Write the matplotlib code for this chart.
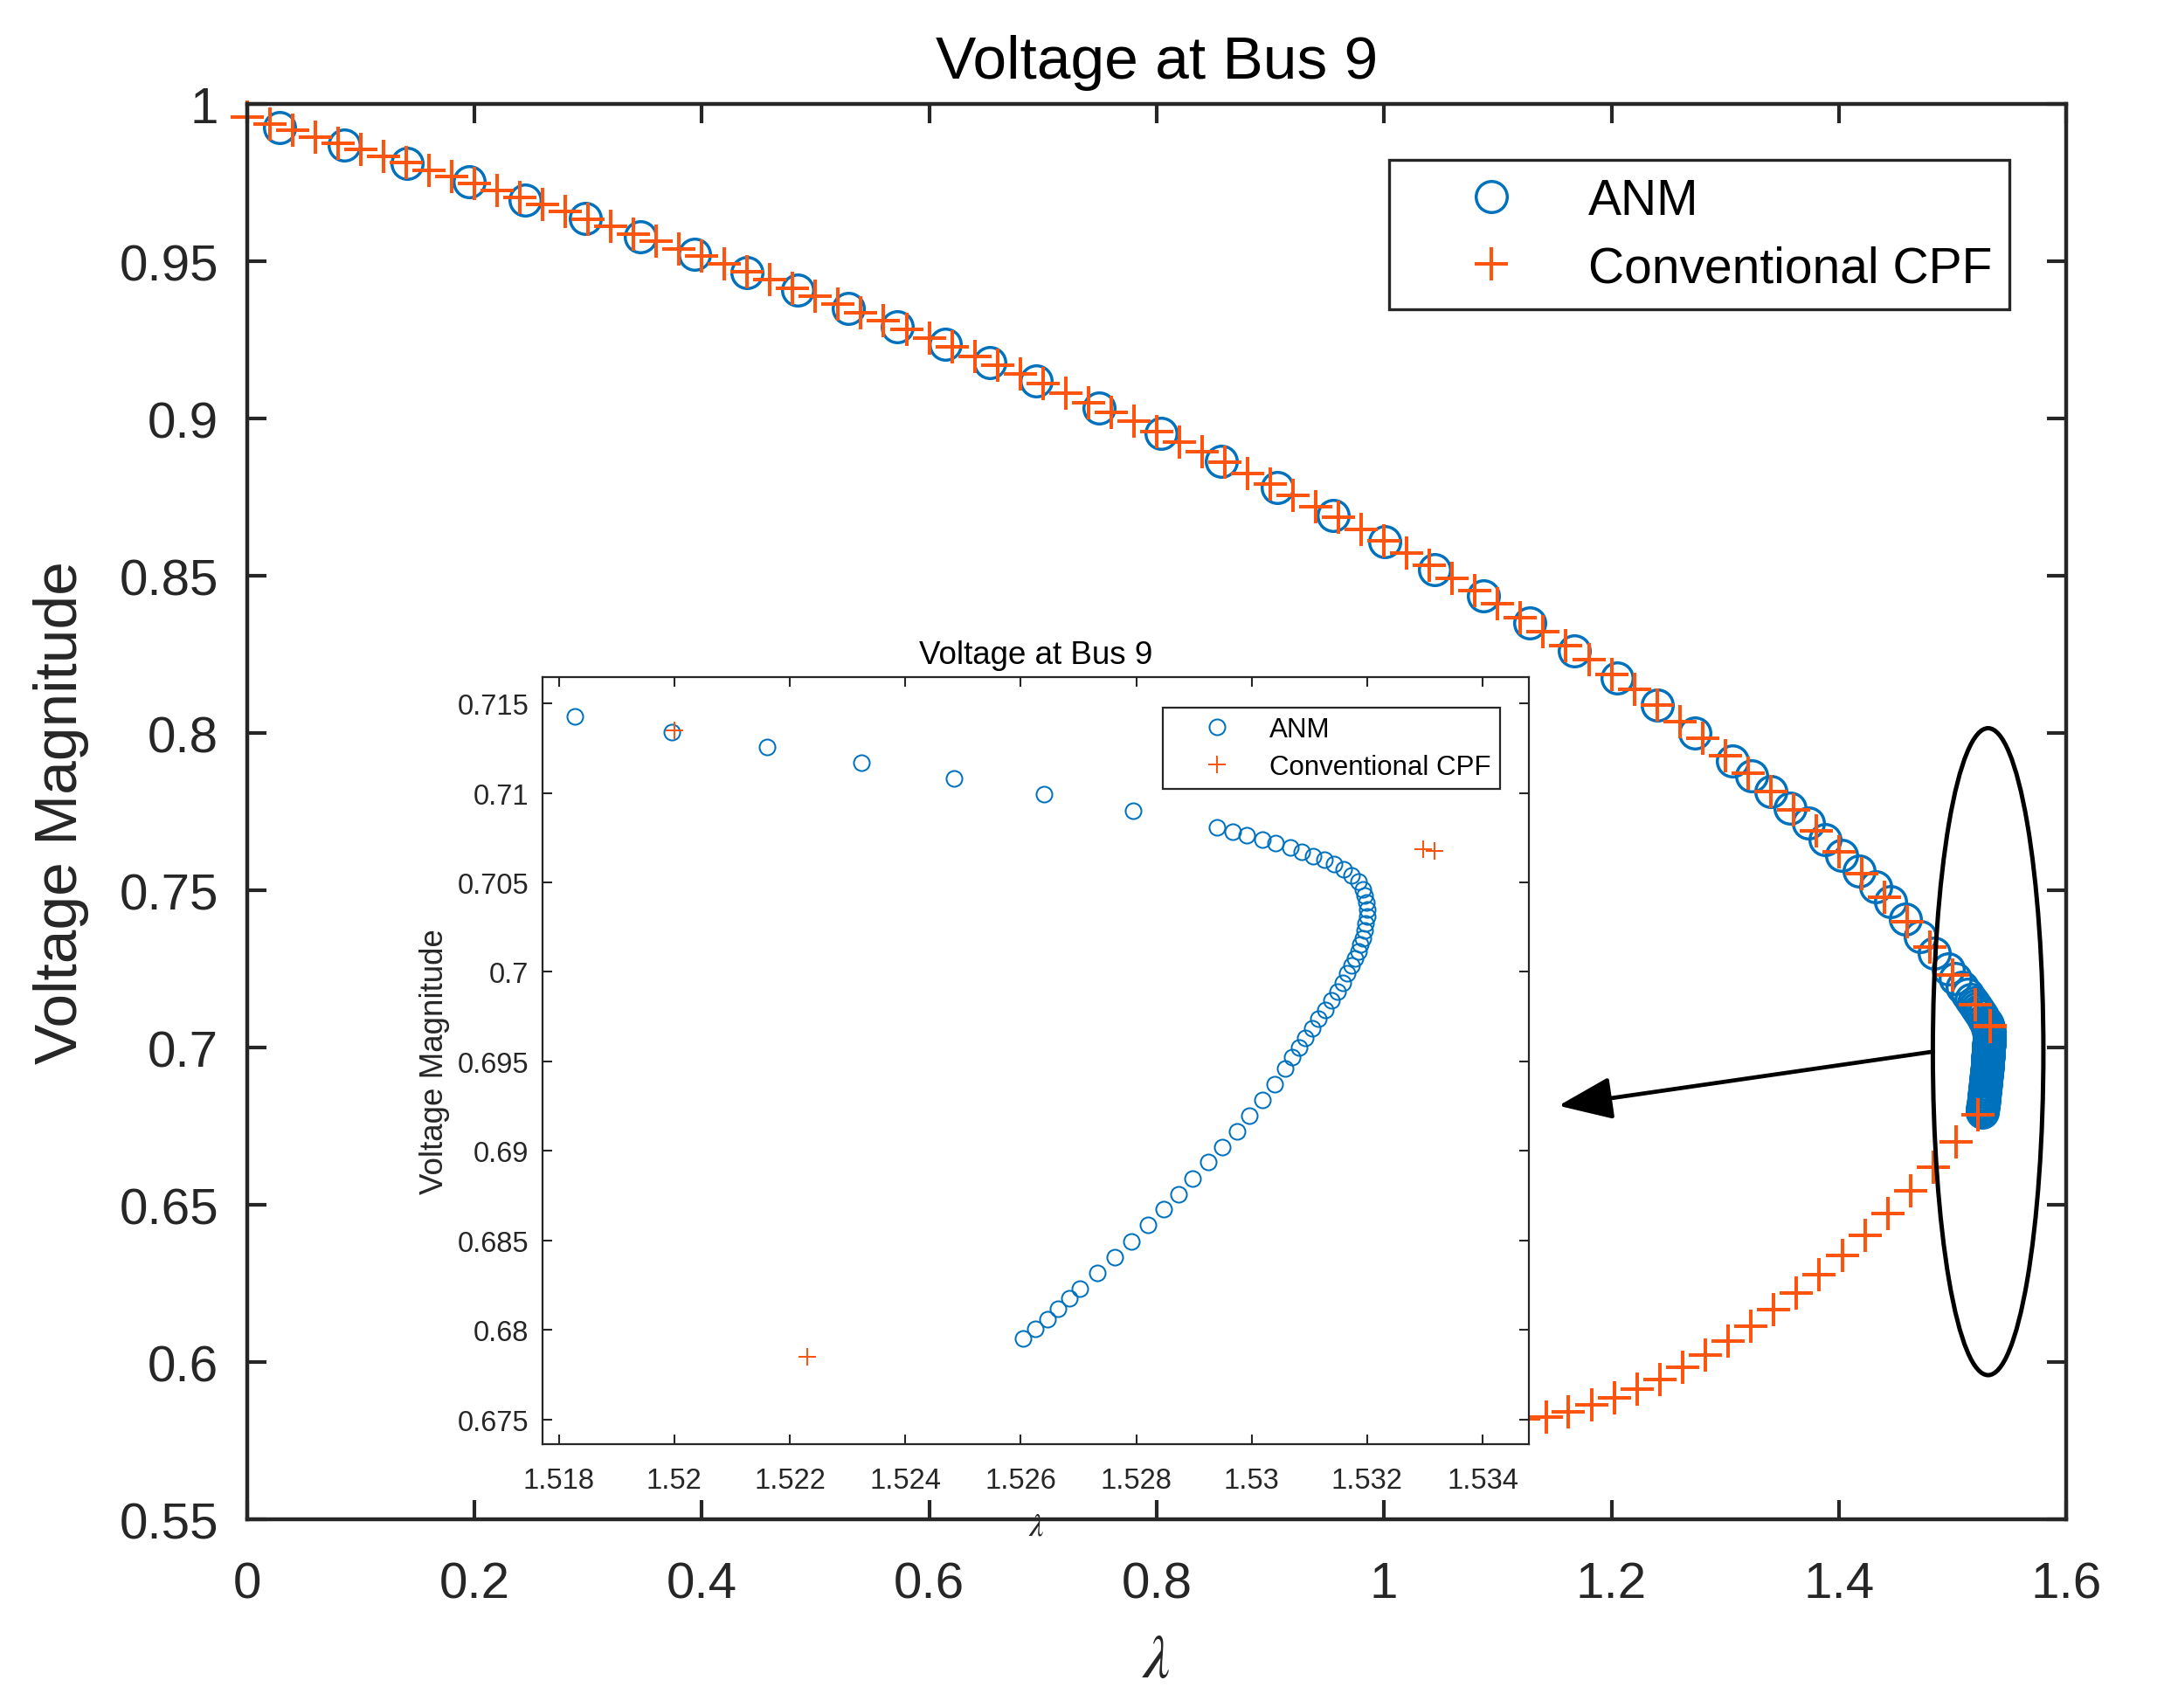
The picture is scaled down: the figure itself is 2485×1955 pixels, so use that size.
import matplotlib
matplotlib.use('Agg')
import matplotlib.pyplot as plt
from matplotlib.patches import Ellipse, FancyArrowPatch

plt.rcParams['font.family'] = ['Liberation Sans', 'DejaVu Sans']
plt.rcParams['mathtext.fontset'] = 'stix'

# ---- data ----
# ANM points (lambda, voltage)
anm_lam = [0.0291, 0.0854, 0.1408, 0.1956, 0.2446, 0.2975, 0.3460, 0.3940, 0.4396, 0.4846,
           0.5287, 0.5718, 0.6144, 0.6536, 0.6938, 0.7495, 0.8036, 0.8573, 0.9062, 0.9556,
           1.0007, 1.0446, 1.0877, 1.1280, 1.1672, 1.2052, 1.2405, 1.2730, 1.3060, 1.3236,
           1.3403, 1.3569, 1.3730, 1.3879, 1.4025, 1.4178, 1.4320, 1.4455, 1.4588, 1.4716,
           1.4837, 1.4960, 1.5026, 1.5083, 1.5130, 1.5160,
           1.51828, 1.51996, 1.52160, 1.52324, 1.52484, 1.52641, 1.52794,
           1.52940, 1.52967, 1.52992, 1.53018, 1.53042, 1.53067, 1.53087, 1.53107, 1.53126, 1.53143,
           1.53159, 1.53173, 1.53185, 1.53192, 1.53196, 1.53199, 1.53200, 1.53200, 1.53197, 1.53195,
           1.53192, 1.53188, 1.53185, 1.53179, 1.53173, 1.53166, 1.53158, 1.53149, 1.53138, 1.53128,
           1.53116, 1.53105, 1.53093, 1.53082, 1.53070, 1.53058, 1.53040, 1.53018, 1.52996, 1.52974,
           1.52949, 1.52924, 1.52898, 1.52874, 1.52847, 1.52820, 1.52792, 1.52763, 1.52733, 1.52703,
           1.52684, 1.52664, 1.52646, 1.52625, 1.52604]
anm_v = [0.9926, 0.9869, 0.9812, 0.9752, 0.9694, 0.9637, 0.9579, 0.9522, 0.9465, 0.9408,
         0.9350, 0.9292, 0.9235, 0.9178, 0.9120, 0.9034, 0.8954, 0.8863, 0.8780, 0.8693,
         0.8609, 0.8521, 0.8435, 0.8349, 0.8262, 0.8174, 0.8088, 0.8000, 0.7912, 0.7863,
         0.7813, 0.7761, 0.7713, 0.7662, 0.7611, 0.7562, 0.7511, 0.7463, 0.7408, 0.7352,
         0.7301, 0.7250, 0.7220, 0.7193, 0.7169, 0.7154,
         0.71425, 0.71341, 0.71254, 0.71167, 0.71080, 0.70993, 0.70902,
         0.70806, 0.70781, 0.70762, 0.70740, 0.70719, 0.70694, 0.70669, 0.70647, 0.70625, 0.70600,
         0.70572, 0.70541, 0.70504, 0.70463, 0.70426, 0.70389, 0.70348, 0.70311, 0.70270, 0.70230,
         0.70189, 0.70152, 0.70115, 0.70074, 0.70034, 0.69990, 0.69940, 0.69890, 0.69840, 0.69788,
         0.69738, 0.69685, 0.69632, 0.69579, 0.69523, 0.69461, 0.69374, 0.69283, 0.69199, 0.69109,
         0.69022, 0.68938, 0.68847, 0.68760, 0.68673, 0.68586, 0.68496, 0.68408, 0.68318, 0.68231,
         0.68175, 0.68116, 0.68060, 0.68007, 0.67951]

# Conventional CPF points: upper branch, nose, lower branch
cpf_lam = [0.00, 0.02, 0.04, 0.06, 0.08, 0.10, 0.12, 0.14, 0.16, 0.18,
           0.20, 0.22, 0.24, 0.26, 0.28, 0.30, 0.32, 0.34, 0.36, 0.38,
           0.40, 0.42, 0.44, 0.46, 0.48, 0.50, 0.52, 0.54, 0.56, 0.58,
           0.60, 0.62, 0.64, 0.66, 0.68, 0.70, 0.72, 0.74, 0.76, 0.78,
           0.80, 0.82, 0.84, 0.86, 0.88, 0.90, 0.92, 0.94, 0.96, 0.98,
           1.00, 1.02, 1.04, 1.06, 1.08, 1.10, 1.12, 1.14, 1.16, 1.18,
           1.20, 1.22, 1.24, 1.26, 1.28, 1.30, 1.32, 1.34, 1.36, 1.38,
           1.40, 1.42, 1.44, 1.46, 1.48, 1.50, 1.52,
           1.53297, 1.53316,
           1.52231, 1.5027, 1.4827, 1.4628, 1.4428, 1.4228, 1.4028, 1.3828, 1.3628, 1.3428,
           1.3228, 1.3029, 1.2829, 1.2629, 1.2428, 1.2229, 1.2029, 1.1829, 1.1623, 1.1424,
           1.1224]
cpf_v = [0.9958, 0.9937, 0.9917, 0.9896, 0.9875, 0.9855, 0.9833, 0.9813, 0.9790, 0.9769,
         0.9747, 0.9724, 0.9702, 0.9681, 0.9658, 0.9634, 0.9611, 0.9586, 0.9563, 0.9540,
         0.9516, 0.9491, 0.9466, 0.9442, 0.9415, 0.9389, 0.9363, 0.9336, 0.9310, 0.9283,
         0.9255, 0.9227, 0.9197, 0.9169, 0.9142, 0.9111, 0.9081, 0.9051, 0.9021, 0.8991,
         0.8958, 0.8926, 0.8894, 0.8861, 0.8826, 0.8792, 0.8756, 0.8721, 0.8685, 0.8648,
         0.8611, 0.8572, 0.8533, 0.8493, 0.8452, 0.8410, 0.8366, 0.8322, 0.8278, 0.8233,
         0.8187, 0.8139, 0.8088, 0.8037, 0.7983, 0.7928, 0.7872, 0.7813, 0.7755, 0.7688,
         0.7622, 0.7554, 0.7479, 0.7401, 0.7319, 0.7231, 0.7135,
         0.70684, 0.70678,
         0.67851, 0.6699, 0.6620, 0.6544, 0.6472, 0.6404, 0.6340, 0.6278, 0.6220, 0.6167,
         0.6114, 0.6067, 0.6023, 0.5983, 0.5946, 0.5915, 0.5885, 0.5863, 0.5841, 0.5826,
         0.5821]

main_xticks = [0, 0.2, 0.4, 0.6, 0.8, 1.0, 1.2, 1.4, 1.6]
main_xticklabels = ['0', '0.2', '0.4', '0.6', '0.8', '1', '1.2', '1.4', '1.6']
main_yticks = [0.55, 0.6, 0.65, 0.7, 0.75, 0.8, 0.85, 0.9, 0.95, 1.0]
main_yticklabels = ['0.55', '0.6', '0.65', '0.7', '0.75', '0.8', '0.85', '0.9', '0.95', '1']
ins_xticks = [1.518, 1.520, 1.522, 1.524, 1.526, 1.528, 1.530, 1.532, 1.534]
ins_xticklabels = ['1.518', '1.52', '1.522', '1.524', '1.526', '1.528', '1.53', '1.532', '1.534']
ins_yticks = [0.675, 0.68, 0.685, 0.69, 0.695, 0.7, 0.705, 0.71, 0.715]
ins_yticklabels = ['0.675', '0.68', '0.685', '0.69', '0.695', '0.7', '0.705', '0.71', '0.715']

# highlight ellipse (center, width, height) and arrow (tail, head) in data units
ell_center = (1.5312, 0.6987)
ell_size = (0.0972, 0.2057)
arrow_tail = (1.4826, 0.6987)
arrow_head = (1.1534, 0.6815)

blue = '#0072BD'
orange = '#FD5510'
axcol = '#262626'

fig = plt.figure(figsize=(24.85, 19.56), dpi=100)

# <- main axes ->
ax = fig.add_axes([0.1137, 0.1104, 0.8381, 0.8282])
ax.plot(anm_lam, anm_v, ls='none', marker='o', mfc='none', mec=blue, ms=25.6, mew=2.5,
        label='ANM', clip_on=False)
ax.plot(cpf_lam, cpf_v, ls='none', marker='+', color=orange, ms=28, mew=2.9,
        label='Conventional CPF', clip_on=False)
ax.set_xlim(0, 1.6)
ax.set_ylim(0.55, 1.0)
ax.set_xticks(main_xticks)
ax.set_xticklabels(main_xticklabels)
ax.set_yticks(main_yticks)
ax.set_yticklabels(main_yticklabels)
for s in ax.spines.values():
    s.set_linewidth(3.2)
    s.set_color(axcol)
ax.tick_params(direction='in', length=15.8, width=3.0, color=axcol, labelcolor=axcol,
               labelsize=42, top=True, right=True)
ax.tick_params(axis='x', pad=33.8)
ax.tick_params(axis='y', pad=23.4)
ax.set_title('Voltage at Bus 9', fontsize=50, pad=21.6, color='black')
ax.set_xlabel(r'$\lambda$', fontsize=50, color=axcol)
ax.xaxis.set_label_coords(0.5, -0.080)
ax.set_ylabel('Voltage Magnitude', fontsize=50, color=axcol, va='center')
ax.yaxis.set_label_coords(-0.102, 0.5)

leg = ax.legend(loc='upper left', bbox_to_anchor=(1590 / 2485, 1 - 184 / 1956),
                bbox_transform=fig.transFigure, borderaxespad=0, fontsize=41, numpoints=1,
                borderpad=0.346, handlelength=3.42, handletextpad=0.24, labelspacing=0.41,
                fancybox=False, framealpha=1, edgecolor=axcol)
leg.get_frame().set_linewidth(2.4)

ax.add_patch(Ellipse(ell_center, ell_size[0], ell_size[1], fill=False, ec='black',
                     lw=3.6, zorder=5, clip_on=False))
ax.add_patch(FancyArrowPatch(arrow_tail, arrow_head,
                             arrowstyle='-|>,head_length=38,head_width=15',
                             mutation_scale=1, lw=3.4, color='black',
                             shrinkA=0, shrinkB=0, zorder=5, clip_on=False))

# <- inset axes ->
ins = fig.add_axes([0.2501, 0.1544, 0.4542, 0.4489])
ins.set_facecolor('white')
ins.plot(anm_lam, anm_v, ls='none', marker='o', mfc='none', mec=blue, ms=13, mew=1.45,
         label='ANM')
ins.plot(cpf_lam, cpf_v, ls='none', marker='+', color=orange, ms=14.4, mew=1.45,
         label='Conventional CPF')
ins.set_xlim(1.517726, 1.534803)
ins.set_ylim(0.67362, 0.71647)
ins.set_xticks(ins_xticks)
ins.set_xticklabels(ins_xticklabels)
ins.set_yticks(ins_yticks)
ins.set_yticklabels(ins_yticklabels)
for s in ins.spines.values():
    s.set_linewidth(1.6)
    s.set_color(axcol)
ins.tick_params(direction='in', length=8, width=1.5, color=axcol, labelcolor=axcol,
                labelsize=23.5, top=True, right=True)
ins.tick_params(axis='x', pad=18.7)
ins.tick_params(axis='y', pad=11.5)
ins.set_title('Voltage at Bus 9', fontsize=26.5, pad=11.5, color='black')
ins.set_xlabel(r'$\lambda$', fontsize=26.5, color=axcol)
ins.xaxis.set_label_coords(0.5, -0.0866)
ins.set_ylabel('Voltage Magnitude', fontsize=26.5, color=axcol, va='center')
ins.yaxis.set_label_coords(-0.110, 0.5)

leg2 = ins.legend(loc='upper left', bbox_to_anchor=(1330.8 / 2485, 1 - 811.2 / 1956),
                  bbox_transform=fig.transFigure, borderaxespad=0, fontsize=22.5, numpoints=1,
                  borderpad=0.315, handlelength=3.34, handletextpad=0.267, labelspacing=0.426,
                  fancybox=False, framealpha=1, edgecolor=axcol)
leg2.get_frame().set_linewidth(1.6)

fig.savefig('out.png', dpi=100, facecolor='white')
